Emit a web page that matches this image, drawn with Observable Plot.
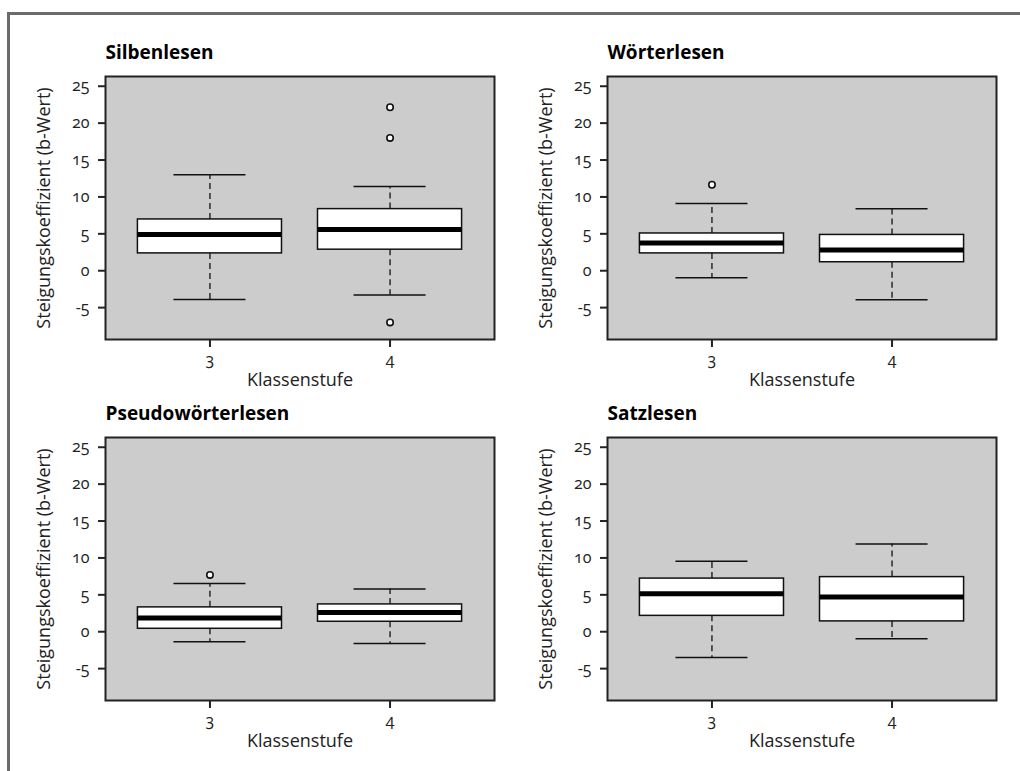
<!DOCTYPE html>
<html>
<head>
<meta charset="utf-8">
<script src="https://cdn.jsdelivr.net/npm/d3@7"></script>
<script src="https://cdn.jsdelivr.net/npm/@observablehq/plot@0.6"></script>
<style>
  html, body { margin: 0; padding: 0; background: white; }
  #wrap { position: relative; width: 1020px; height: 771px; overflow: hidden; }
  #border { position: absolute; left: 7px; top: 12px; right: -10px; bottom: -10px;
            border-top: 3px solid #6b6b6b; border-left: 3px solid #6b6b6b; }
  .panel { position: absolute; }
  .panel svg { background: transparent; }
  .panel svg text { font-variant-numeric: oldstyle-nums; font-feature-settings: "onum" 1; }
</style>
</head>
<body>
<div id="wrap"><div id="border"></div></div>
<script>
// ---- data ----
const categories = ["3", "4"];
const panelTitles = ["Silbenlesen", "Wörterlesen", "Pseudowörterlesen", "Satzlesen"];
const lowerWhisker = [[-3.9, -3.3], [-0.95, -3.95], [-1.35, -1.6], [-3.5, -0.95]];
const lowerQuartile = [[2.35, 2.85], [2.35, 1.15], [0.4, 1.35], [2.15, 1.4]];
const medians = [[4.9, 5.6], [3.75, 2.8], [1.85, 2.6], [5.15, 4.7]];
const upperQuartile = [[6.95, 8.35], [5.05, 4.85], [3.3, 3.7], [7.2, 7.4]];
const upperWhisker = [[13.0, 11.4], [9.1, 8.4], [6.55, 5.8], [9.55, 11.9]];
const outlierValues = [[[], [22.15, 18.0, -7.0]], [[11.65], []], [[7.7], []], [[], []]];
const yTicks = [-5, 0, 5, 10, 15, 20, 25];
const yLimits = [-8, 25];
const xAxisLabel = "Klassenstufe";
const yAxisLabel = "Steigungskoeffizient (b-Wert)";

// R-style 4% axis expansion
const ypad = 0.04 * (yLimits[1] - yLimits[0]);
const yDomain = [yLimits[0] - ypad, yLimits[1] + ypad];
const xLimits = [0.5, categories.length + 0.5];
const xpad = 0.04 * (xLimits[1] - xLimits[0]);
const xDomain = [xLimits[0] - xpad, xLimits[1] + xpad];
const boxHalf = 0.4, capHalf = 0.2;

const positions = [[0, 0], [502, 0], [0, 361], [502, 361]];
const wrap = document.getElementById("wrap");
const FONT = "'Open Sans', sans-serif";

panelTitles.forEach((title, p) => {
  const rows = categories.map((c, i) => ({
    pos: i + 1,
    lo: lowerWhisker[p][i], q1: lowerQuartile[p][i], med: medians[p][i],
    q3: upperQuartile[p][i], hi: upperWhisker[p][i]
  }));
  const outs = categories.flatMap((c, i) => outlierValues[p][i].map(v => ({pos: i + 1, v})));

  const chart = Plot.plot({
    width: 510,
    height: 400,
    marginLeft: 105,
    marginRight: 16,
    marginTop: 76,
    marginBottom: 61,
    style: {fontFamily: FONT, fontSize: "16px", color: "#222", background: "transparent"},
    x: {type: "linear", domain: xDomain},
    y: {type: "linear", domain: yDomain},
    marks: [
      Plot.frame({fill: "#cccccc"}),
      Plot.ruleX(rows, {x: "pos", y1: "q3", y2: "hi", stroke: "#111", strokeWidth: 1.3, strokeDasharray: "6,4"}),
      Plot.ruleX(rows, {x: "pos", y1: "q1", y2: "lo", stroke: "#111", strokeWidth: 1.3, strokeDasharray: "6,4"}),
      Plot.ruleY(rows, {y: "hi", x1: d => d.pos - capHalf, x2: d => d.pos + capHalf, stroke: "#111", strokeWidth: 1.5}),
      Plot.ruleY(rows, {y: "lo", x1: d => d.pos - capHalf, x2: d => d.pos + capHalf, stroke: "#111", strokeWidth: 1.5}),
      Plot.rect(rows, {x1: d => d.pos - boxHalf, x2: d => d.pos + boxHalf, y1: "q1", y2: "q3", fill: "white", stroke: "#111", strokeWidth: 1.5}),
      Plot.ruleY(rows, {y: "med", x1: d => d.pos - boxHalf, x2: d => d.pos + boxHalf, stroke: "#000", strokeWidth: 5}),
      Plot.dot(outs, {x: "pos", y: "v", r: 3.2, fill: "white", stroke: "#111", strokeWidth: 1.6}),
      Plot.frame({stroke: "#222", strokeWidth: 2}),
      Plot.axisY({ticks: yTicks, tickSize: 7, tickPadding: 9, tickFormat: d => String(d),
        fontSize: 16, strokeWidth: 2, color: "#222", label: null}),
      Plot.axisY({ticks: [], tickSize: 0, fontSize: 18, color: "#222",
        label: yAxisLabel, labelAnchor: "center", labelOffset: 68, labelArrow: "none"}),
      Plot.axisX({ticks: categories.map((c, i) => i + 1), tickFormat: d => categories[d - 1],
        tickSize: 8, tickPadding: 6, fontSize: 16, strokeWidth: 2, color: "#222", label: null}),
      Plot.axisX({ticks: [], tickSize: 0, fontSize: 18, color: "#222",
        label: xAxisLabel, labelAnchor: "center", labelOffset: 46, labelArrow: "none"}),
      Plot.text([title], {frameAnchor: "top-left", dy: -24, textAnchor: "start", lineAnchor: "middle",
        fontWeight: "bold", fontSize: 19, fill: "#000"})
    ]
  });
  const div = document.createElement("div");
  div.className = "panel";
  div.style.left = positions[p][0] + "px";
  div.style.top = positions[p][1] + "px";
  div.appendChild(chart);
  wrap.appendChild(div);
});
</script>
</body>
</html>
